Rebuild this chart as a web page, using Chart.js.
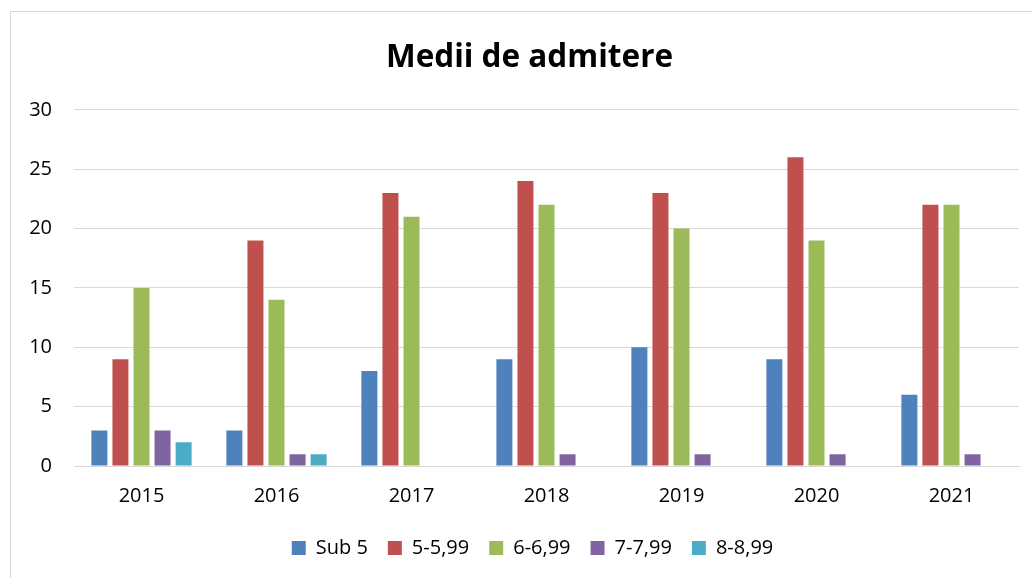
<!DOCTYPE html>
<html>
<head>
<meta charset="utf-8">
<script src="https://cdn.jsdelivr.net/npm/chart.js@4/dist/chart.umd.min.js"></script>
<style>
  html, body { margin: 0; padding: 0; background: #fff; }
  #frame {
    position: absolute; left: 10px; top: 11px; width: 1040px; height: 600px;
    border-left: 1px solid #d9d9d9; border-top: 1px solid #d9d9d9;
  }
  #wrap { position: absolute; left: 0; top: 0; width: 1032px; height: 578px; }
</style>
</head>
<body>
<div id="frame"></div>
<div id="wrap"><canvas id="myChart"></canvas></div>
<script>
// Ani
const years = ['2015', '2016', '2017', '2018', '2019', '2020', '2021'];

// Serii (numar elevi pe interval de medii)
const sub5    = [3, 3, 8, 9, 10, 9, 6];
const m5_599  = [9, 19, 23, 24, 23, 26, 22];
const m6_699  = [15, 14, 21, 22, 20, 19, 22];
const m7_799  = [3, 1, 0, 1, 1, 1, 1];
const m8_899  = [2, 1, 0, 0, 0, 0, 0];

const seriesNames = ['Sub 5', '5-5,99', '6-6,99', '7-7,99', '8-8,99'];
const yTicks = [0, 5, 10, 15, 20, 25, 30];

const colors = ['#4F81BD', '#C0504D', '#9BBB59', '#8064A2', '#4BACC6'];
const FONT = "'Open Sans', 'Liberation Sans', sans-serif";

const datasets = [sub5, m5_599, m6_699, m7_799, m8_899].map((vals, i) => ({
    label: seriesNames[i],
    data: vals,
    backgroundColor: colors[i],
    borderWidth: 0,
    categoryPercentage: 0.78,
    barPercentage: 0.76
}));

// The source frame is wider than the picture, so title and legend sit a bit right of centre
const shiftBlocks = {
    id: 'shiftBlocks',
    afterLayout(chart) {
        if (chart.titleBlock) { chart.titleBlock.left += 20; chart.titleBlock.right += 20; }
        if (chart.legend) { chart.legend.left += 23; chart.legend.right += 23; }
    }
};

const ctx = document.getElementById('myChart').getContext('2d');
new Chart(ctx, {
    type: 'bar',
    data: { labels: years, datasets: datasets },
    plugins: [shiftBlocks],
    options: {
        responsive: true,
        maintainAspectRatio: false,
        animation: false,
        layout: { padding: { left: 0, right: 13, top: 0, bottom: 10 } },
        plugins: {
            title: {
                display: true,
                text: 'Medii de admitere',
                color: '#000',
                font: { family: FONT, size: 31.5, weight: 'bold' },
                padding: { top: 39, bottom: 33 }
            },
            legend: {
                position: 'bottom',
                labels: {
                    color: '#000',
                    font: { family: FONT, size: 20 },
                    boxWidth: 14,
                    boxHeight: 14,
                    padding: 20
                }
            },
            tooltip: { enabled: false }
        },
        scales: {
            x: {
                grid: { display: false },
                border: { color: '#d9d9d9' },
                ticks: { color: '#000', font: { family: FONT, size: 20 }, padding: 10 }
            },
            y: {
                min: 0,
                max: 30,
                afterBuildTicks: (scale) => { scale.ticks = yTicks.map(v => ({ value: v })); },
                afterFit: (scale) => { scale.width = 74; },
                grid: { color: '#d9d9d9', lineWidth: 1, drawTicks: false },
                border: { display: false },
                ticks: { color: '#000', font: { family: FONT, size: 20 }, padding: 22 }
            }
        }
    }
});
</script>
</body>
</html>
